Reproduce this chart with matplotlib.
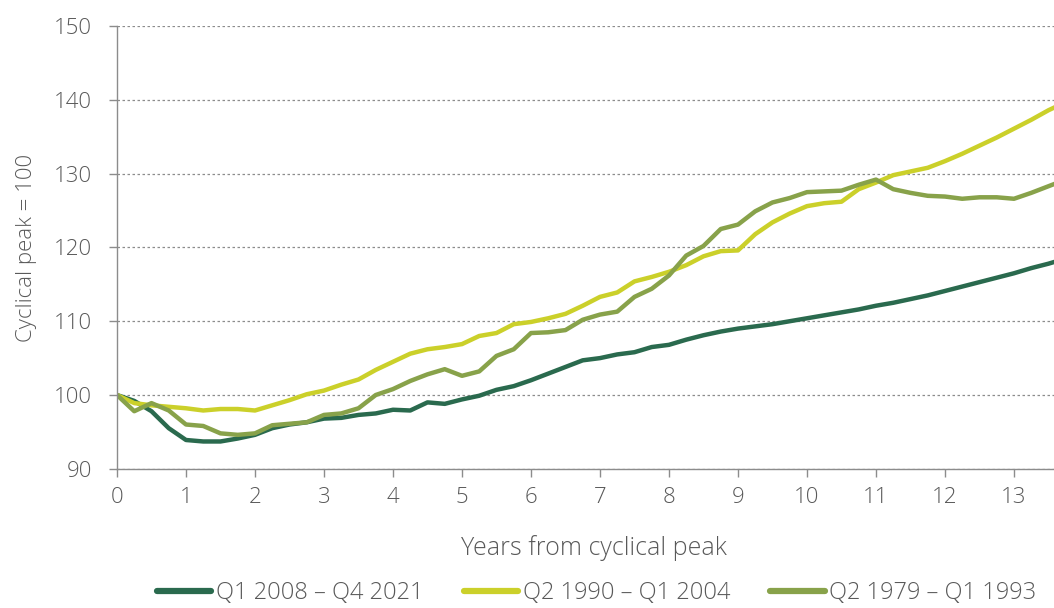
import matplotlib.pyplot as plt

plt.rcParams['font.family'] = ['Open Sans', 'DejaVu Sans']

# quarterly points, years from cyclical peak
years = [i / 4 for i in range(56)]

q1_2008 = [100, 99.2, 97.8, 95.5, 93.9, 93.7, 93.7, 94.1, 94.6, 95.5, 96.0, 96.3,
           96.8, 96.9, 97.3, 97.5, 98.0, 97.9, 99.0, 98.8, 99.4, 99.9, 100.7, 101.2,
           102.0, 102.9, 103.8, 104.7, 105.0, 105.5, 105.8, 106.5, 106.8, 107.5, 108.1, 108.6,
           109.0, 109.3, 109.6, 110.0, 110.4, 110.8, 111.2, 111.6, 112.1, 112.5, 113.0, 113.5,
           114.1, 114.7, 115.3, 115.9, 116.5, 117.2, 117.8, 118.5]

q2_1990 = [100, 98.9, 98.6, 98.4, 98.2, 97.9, 98.1, 98.1, 97.9, 98.6, 99.3, 100.1,
           100.6, 101.4, 102.1, 103.4, 104.5, 105.6, 106.2, 106.5, 106.9, 108.0, 108.4, 109.6,
           109.9, 110.4, 111.0, 112.1, 113.3, 113.9, 115.4, 116.0, 116.7, 117.6, 118.8, 119.5,
           119.6, 121.8, 123.4, 124.6, 125.6, 126.0, 126.2, 127.9, 128.8, 129.8, 130.3, 130.8,
           131.7, 132.7, 133.8, 134.9, 136.1, 137.3, 138.6, 139.7]

q2_1979 = [100, 97.8, 98.9, 97.9, 96.0, 95.8, 94.8, 94.6, 94.8, 95.9, 96.1, 96.3,
           97.3, 97.5, 98.2, 100.0, 100.8, 101.9, 102.8, 103.5, 102.6, 103.2, 105.3, 106.2,
           108.4, 108.5, 108.8, 110.2, 110.9, 111.3, 113.3, 114.4, 116.2, 118.9, 120.2, 122.5,
           123.1, 124.9, 126.1, 126.7, 127.5, 127.6, 127.7, 128.5, 129.2, 127.9, 127.4, 127.0,
           126.9, 126.6, 126.8, 126.8, 126.6, 127.4, 128.3, 129.2]

labels = ['Q1 2008 – Q4 2021', 'Q2 1990 – Q1 2004', 'Q2 1979 – Q1 1993']
colors = ['#2a6a4e', '#cbd02a', '#88a24a']

fig = plt.figure(figsize=(10.54, 6.08), dpi=100)
ax = fig.add_axes([0.111, 0.229, 0.889, 0.728])

for ys, lab, col in zip([q1_2008, q2_1990, q2_1979], labels, colors):
    ax.plot(years, ys, color=col, lw=3.2, label=lab, solid_capstyle='round')

ax.set_xlim(0, 13.58)
ax.set_ylim(90, 150)
ax.set_xticks(range(0, 14))
ax.set_yticks(range(90, 151, 10))
ax.yaxis.grid(True, linestyle=(0, (2, 2)), color='#8c8c8c', lw=0.9)
ax.set_axisbelow(True)

for s in ['top', 'right']:
    ax.spines[s].set_visible(False)
for s in ['left', 'bottom']:
    ax.spines[s].set_color('#8c8c8c')
    ax.spines[s].set_linewidth(1)

ax.tick_params(axis='both', colors='#8c8c8c', labelcolor='#595959', labelsize=16,
               length=5.8, width=1)
ax.tick_params(axis='y', pad=12)
ax.tick_params(axis='x', pad=7)
for t in ax.get_xticklabels() + ax.get_yticklabels():
    t.set_fontweight('light')

ax.set_ylabel('Cyclical peak = 100', fontsize=16, color='#595959', fontweight='light')
ax.yaxis.set_label_coords(-0.085, 0.5)
ax.set_xlabel('Years from cyclical peak', fontsize=18, color='#595959', fontweight='light')
ax.xaxis.set_label_coords(0.509, -0.15)
ax.xaxis.label.set_va('top')

leg = fig.legend(loc='lower center', bbox_to_anchor=(0.566, -0.03), ncol=3, frameon=False,
                 handlelength=2.3, handletextpad=0.2, columnspacing=1.7,
                 prop={'size': 17, 'weight': 'light'})
for t in leg.get_texts():
    t.set_color('#595959')
for h in leg.get_lines():
    h.set_linewidth(4.5)

fig.savefig('out.png', dpi=100)
